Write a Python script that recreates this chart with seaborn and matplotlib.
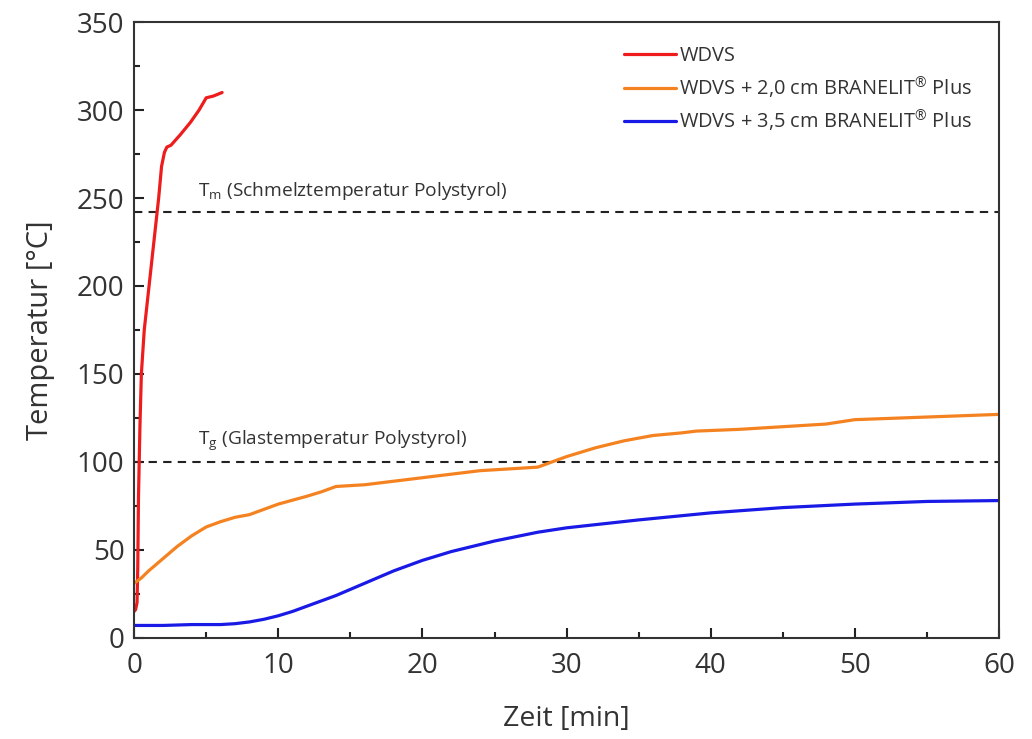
import numpy as np
import pandas as pd
import matplotlib
matplotlib.use("Agg")
import matplotlib.pyplot as plt
from matplotlib.ticker import MultipleLocator
import seaborn as sns

# series
zeit_wdvs = [0.0, 0.1, 0.2, 0.25, 0.3, 0.4, 0.5, 0.7, 0.9, 1.1, 1.3, 1.5, 1.7, 1.9, 2.1, 2.27, 2.55, 3.2, 3.9, 4.5, 5.0, 5.5, 6.1]
temp_wdvs = [15, 16, 20, 40, 80, 120, 150, 175, 190, 205, 220, 235, 250, 268, 276, 279, 280, 286, 293, 300, 307, 308, 310]

zeit_20 = [0.0, 0.5, 1, 2, 3, 4, 5, 6, 7, 8, 10, 12, 13, 14, 16, 18, 20, 22, 24, 26, 28, 29, 30, 32, 34, 36, 38, 39, 42, 45, 48, 50, 55, 60]
temp_20 = [31, 34, 38, 45, 52, 58, 63, 66, 68.5, 70, 76, 80.5, 83, 86, 87, 89, 91, 93, 95, 96, 97, 100, 103, 108, 112, 115, 116.5, 117.5, 118.5, 120, 121.5, 124, 125.5, 127]

zeit_35 = [0, 2, 4, 6, 7, 8, 9, 10, 11, 12, 14, 16, 18, 20, 22, 25, 28, 30, 35, 40, 45, 50, 55, 60]
temp_35 = [7, 7, 7.5, 7.5, 8, 9, 10.5, 12.5, 15, 18, 24, 31, 38, 44, 49, 55, 60, 62.5, 67, 71, 74, 76, 77.5, 78]

labels = ["WDVS", "WDVS + 2,0 cm BRANELIT$^{®}$ Plus", "WDVS + 3,5 cm BRANELIT$^{®}$ Plus"]
farben = ["#ee1c1c", "#f58220", "#1a1ae6"]

t_m = 242
t_g = 100

df = pd.concat([
    pd.DataFrame({"Zeit": zeit_wdvs, "Temp": temp_wdvs, "Serie": labels[0]}),
    pd.DataFrame({"Zeit": zeit_20, "Temp": temp_20, "Serie": labels[1]}),
    pd.DataFrame({"Zeit": zeit_35, "Temp": temp_35, "Serie": labels[2]}),
])

sns.set_style("ticks")
plt.rcParams["font.family"] = ["Open Sans", "DejaVu Sans"]
plt.rcParams["mathtext.fontset"] = "custom"
plt.rcParams["mathtext.rm"] = "Open Sans"
textfarbe = "#333333"

fig = plt.figure(figsize=(10.32, 7.39), dpi=100)
ax = fig.add_axes([0.130, 0.137, 0.838, 0.833])

sns.lineplot(data=df, x="Zeit", y="Temp", hue="Serie", palette=farben,
             sort=False, estimator=None, linewidth=2.3, ax=ax)

# reference temperatures of polystyrene
ax.axhline(t_m, color="#222222", linestyle=(0, (4, 3)), linewidth=1.5, zorder=1)
ax.axhline(t_g, color="#222222", linestyle=(0, (4, 3)), linewidth=1.5, zorder=1)
ax.text(4.4, t_m + 9, r"T$_{\mathrm{m}}$ (Schmelztemperatur Polystyrol)", fontsize=13.8, color=textfarbe)
ax.text(4.4, t_g + 10, r"T$_{\mathrm{g}}$ (Glastemperatur Polystyrol)", fontsize=13.8, color=textfarbe)

ax.set_xlim(0, 60)
ax.set_ylim(0, 350)
ax.xaxis.set_major_locator(MultipleLocator(10))
ax.xaxis.set_minor_locator(MultipleLocator(5))
ax.yaxis.set_major_locator(MultipleLocator(50))
ax.yaxis.set_minor_locator(MultipleLocator(25))
ax.tick_params(which="major", direction="in", length=7, width=1.5, labelsize=20,
               colors="#222222", labelcolor=textfarbe, pad=7)
ax.tick_params(axis="x", which="major", pad=10)
ax.tick_params(which="minor", direction="in", length=4, width=1.5, colors="#222222")
for s in ax.spines.values():
    s.set_color("#333333")
    s.set_linewidth(1.5)

ax.set_xlabel("Zeit [min]", fontsize=20.5, color=textfarbe, labelpad=18)
ax.set_ylabel("Temperatur [°C]", fontsize=21, color=textfarbe, labelpad=16)

leg = ax.legend(loc="upper right", bbox_to_anchor=(0.99, 0.99), frameon=False,
                fontsize=14.4, handlelength=2.6, handletextpad=0.15, labelspacing=0.38)
for t in leg.get_texts():
    t.set_color(textfarbe)

fig.savefig("out.png", dpi=100)
